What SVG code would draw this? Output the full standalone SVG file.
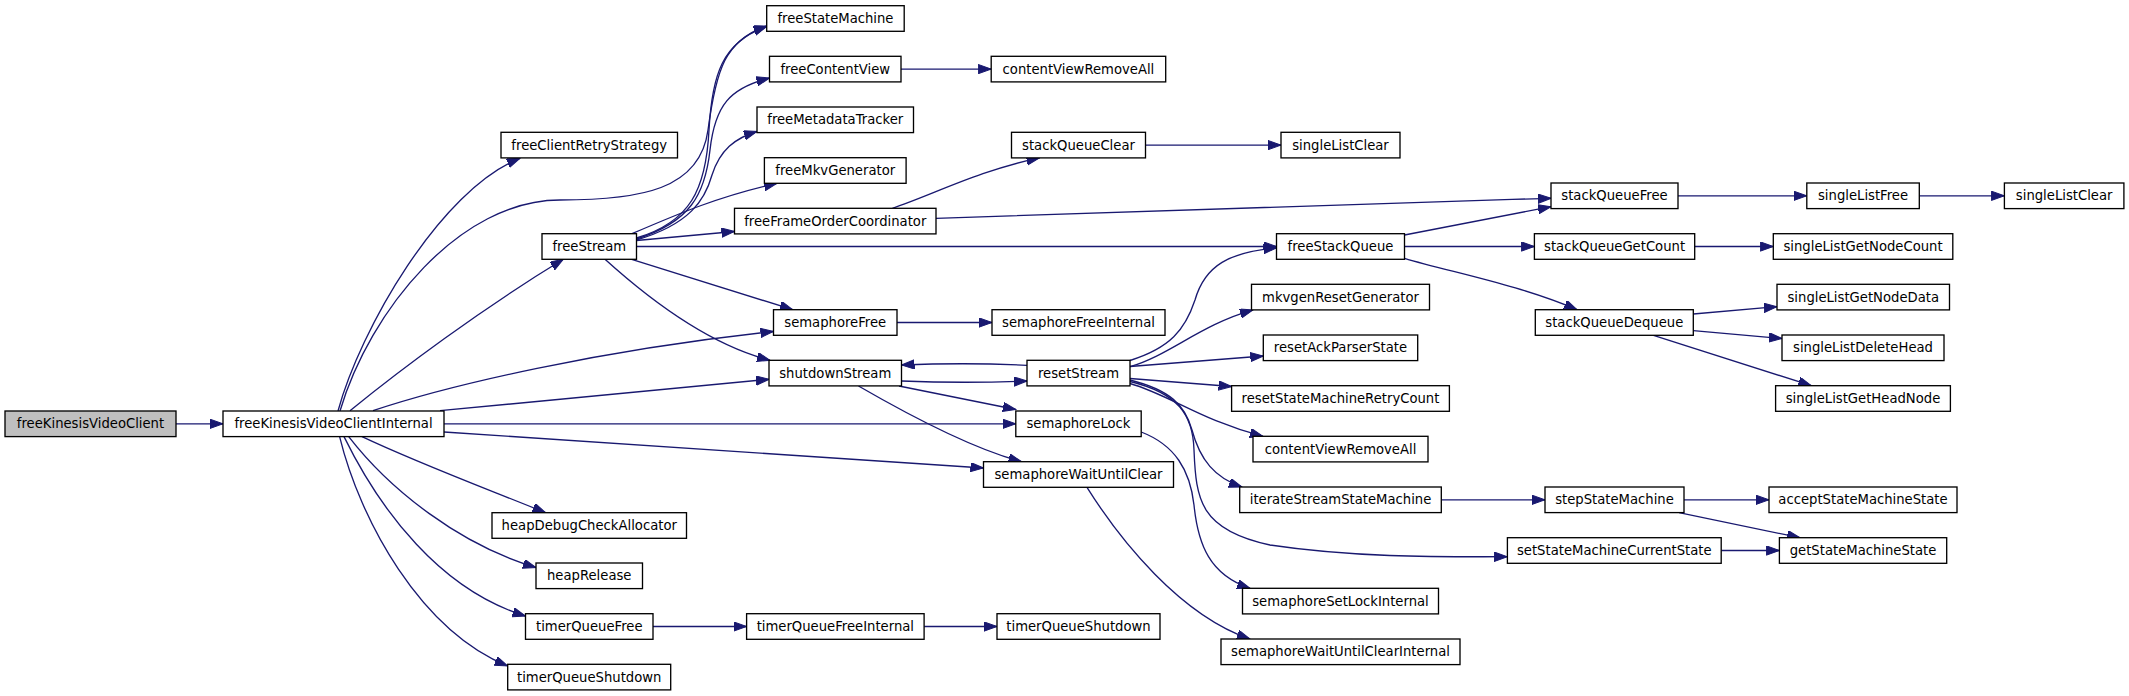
<svg xmlns="http://www.w3.org/2000/svg" width="2129" height="696" viewBox="0 0 2129 696">
<style>
.n rect{fill:#ffffff;stroke:#000000;stroke-width:1.33}
.n.root rect{fill:#bfbfbf}
.n text{font-family:"DejaVu Sans",sans-serif;font-size:13.2px;text-anchor:middle;fill:#000000}
#edges path{fill:none;stroke:#191970;stroke-width:1.33;marker-end:url(#a)}
</style>
<defs>
<marker id="a" markerWidth="14" markerHeight="10" refX="13" refY="4.65" orient="auto" markerUnits="userSpaceOnUse">
<path d="M0,0 L13,4.65 L0,9.3 z" fill="#191970" stroke="#191970" stroke-width="1"/>
</marker>
</defs>
<rect width="2129" height="696" fill="#ffffff"/>
<g id="edges">
<path d="M176,423.8 L223,423.8"/>
<path d="M338,411 C360,330 440,190 520,158.3"/>
<path d="M340,411 C370,310 460,200 560,200 C640,200 700,190 708,130 C716,70 725,40 766.7,26"/>
<path d="M350,410.7 C400,370 480,310 563.3,259.3"/>
<path d="M373,410.7 C450,385 600,350 773.5,331.5"/>
<path d="M440,410.7 L769,379.3"/>
<path d="M444,423.8 L1015.8,423.8"/>
<path d="M444,432 L983.5,468"/>
<path d="M362,436.6 C420,464 490,490 545.6,512.7"/>
<path d="M348.7,436.6 C390,490 460,545 536,567.5"/>
<path d="M344,436.6 C380,510 440,590 525.5,616"/>
<path d="M339.6,436.6 C360,520 420,630 507.7,666"/>
<path d="M636.5,238 C690,222 706,190 709,130 C712,75 722,42 766.7,26.5"/>
<path d="M636.5,239 C690,222 705,195 710,150 C715,105 730,88 769.5,78"/>
<path d="M636.5,240 C690,224 705,200 712,175 C720,150 735,138 757,131.5"/>
<path d="M632,233.7 C680,213 720,196 777,183.3"/>
<path d="M636.5,240.5 L734.5,231.5"/>
<path d="M636.5,246.5 L1276.5,246.5"/>
<path d="M631.7,259.3 L792.8,309.7"/>
<path d="M605,259.3 C650,300 710,345 770,360.3"/>
<path d="M900.7,69.1 L991.2,69.1"/>
<path d="M892.4,208.3 C930,196 980,170 1039.6,157.9"/>
<path d="M936,218.3 C1150,211 1350,204 1551,198.3"/>
<path d="M1145.5,145.1 L1281,145.1"/>
<path d="M897,322.5 L992,322.5"/>
<path d="M1404.5,235 L1551,206.7"/>
<path d="M1404.5,246.5 L1534.4,246.5"/>
<path d="M1404.5,258.3 C1450,272 1520,285 1577,309.7"/>
<path d="M1678,195.8 L1806.8,195.8"/>
<path d="M1919.3,195.8 L2004.4,195.8"/>
<path d="M1694.7,246.5 L1773.3,246.5"/>
<path d="M1693.3,314 L1777,306.7"/>
<path d="M1693.3,330.7 L1782,338.5"/>
<path d="M1653.5,335.3 L1811.4,385.7"/>
<path d="M901.5,381 C940,382.5 990,382.5 1027,381"/>
<path d="M1027,365.3 C990,363.5 940,363.5 901.5,365"/>
<path d="M899,386 L1015.8,409.5"/>
<path d="M858.5,386 C900,410 970,448 1021.5,461.7"/>
<path d="M1141.2,432 C1175,445 1190,470 1194,505 C1198,545 1210,575 1250,588.3"/>
<path d="M1087,487.3 C1120,540 1180,615 1250,639"/>
<path d="M653,626.5 L746.6,626.5"/>
<path d="M924.1,626.5 L997,626.5"/>
<path d="M1130,360.5 C1170,348 1185,330 1195,300 C1205,265 1230,252 1276.5,248"/>
<path d="M1130,366.7 C1170,355 1200,325 1253,309.9"/>
<path d="M1130,366.5 L1263.3,356"/>
<path d="M1130,378.5 L1231.6,386.5"/>
<path d="M1130,383.5 C1170,395 1200,420 1263,436.3"/>
<path d="M1130,380 C1170,390 1185,405 1192,430 C1200,460 1215,478 1242,487"/>
<path d="M1130,381.5 C1178,393 1193,415 1194,450 C1196,500 1200,530 1270,545 C1350,557 1430,557 1507.4,556.7"/>
<path d="M1441.4,499.8 L1545,499.8"/>
<path d="M1684,499.8 L1769,499.8"/>
<path d="M1679,512.7 L1800,537.7"/>
<path d="M1721.2,550.5 L1779.4,550.5"/>
</g>
<g id="n_freeKinesisVideoClient" class="n root"><rect x="5" y="411" width="171" height="25.6"/><text x="90.5" y="428.3">freeKinesisVideoClient</text></g>
<g id="n_freeKinesisVideoClientInternal" class="n"><rect x="223" y="411" width="221" height="25.6"/><text x="333.5" y="428.3">freeKinesisVideoClientInternal</text></g>
<g id="n_freeClientRetryStrategy" class="n"><rect x="501" y="132.3" width="176.5" height="25.6"/><text x="589.25" y="149.6">freeClientRetryStrategy</text></g>
<g id="n_freeStream" class="n"><rect x="542" y="233.7" width="94.5" height="25.6"/><text x="589.25" y="251">freeStream</text></g>
<g id="n_heapDebugCheckAllocator" class="n"><rect x="492" y="512.7" width="194.5" height="25.6"/><text x="589.25" y="530">heapDebugCheckAllocator</text></g>
<g id="n_heapRelease" class="n"><rect x="536" y="563" width="106.5" height="25.6"/><text x="589.25" y="580.3">heapRelease</text></g>
<g id="n_timerQueueFree" class="n"><rect x="525.5" y="613.7" width="127.5" height="25.6"/><text x="589.25" y="631">timerQueueFree</text></g>
<g id="n_timerQueueShutdown" class="n"><rect x="507.7" y="664.3" width="163" height="25.6"/><text x="589.2" y="681.6">timerQueueShutdown</text></g>
<g id="n_freeStateMachine" class="n"><rect x="766.7" y="5.7" width="137.5" height="25.6"/><text x="835.45" y="23">freeStateMachine</text></g>
<g id="n_freeContentView" class="n"><rect x="769.5" y="56.3" width="131.5" height="25.6"/><text x="835.25" y="73.6">freeContentView</text></g>
<g id="n_contentViewRemoveAll" class="n"><rect x="991.2" y="56.3" width="174.5" height="25.6"/><text x="1078.45" y="73.6">contentViewRemoveAll</text></g>
<g id="n_freeMetadataTracker" class="n"><rect x="757" y="107" width="156.5" height="25.6"/><text x="835.25" y="124.3">freeMetadataTracker</text></g>
<g id="n_freeMkvGenerator" class="n"><rect x="764.4" y="157.7" width="141.7" height="25.6"/><text x="835.25" y="175">freeMkvGenerator</text></g>
<g id="n_freeFrameOrderCoordinator" class="n"><rect x="734.5" y="208.3" width="201.5" height="25.6"/><text x="835.25" y="225.6">freeFrameOrderCoordinator</text></g>
<g id="n_stackQueueClear" class="n"><rect x="1011.5" y="132.3" width="134" height="25.6"/><text x="1078.5" y="149.6">stackQueueClear</text></g>
<g id="n_singleListClear" class="n"><rect x="1281" y="132.3" width="119" height="25.6"/><text x="1340.5" y="149.6">singleListClear</text></g>
<g id="n_freeStackQueue" class="n"><rect x="1276.5" y="233.7" width="128" height="25.6"/><text x="1340.5" y="251">freeStackQueue</text></g>
<g id="n_semaphoreFree" class="n"><rect x="773.5" y="309.7" width="123.5" height="25.6"/><text x="835.25" y="327">semaphoreFree</text></g>
<g id="n_semaphoreFreeInternal" class="n"><rect x="992" y="309.7" width="173" height="25.6"/><text x="1078.5" y="327">semaphoreFreeInternal</text></g>
<g id="n_mkvgenResetGenerator" class="n"><rect x="1251.5" y="284.3" width="178" height="25.6"/><text x="1340.5" y="301.6">mkvgenResetGenerator</text></g>
<g id="n_resetAckParserState" class="n"><rect x="1263.3" y="335" width="154.4" height="25.6"/><text x="1340.5" y="352.3">resetAckParserState</text></g>
<g id="n_shutdownStream" class="n"><rect x="769" y="360.3" width="132.5" height="25.6"/><text x="835.25" y="377.6">shutdownStream</text></g>
<g id="n_resetStream" class="n"><rect x="1027" y="360.3" width="103" height="25.6"/><text x="1078.5" y="377.6">resetStream</text></g>
<g id="n_semaphoreLock" class="n"><rect x="1015.8" y="411" width="125.4" height="25.6"/><text x="1078.5" y="428.3">semaphoreLock</text></g>
<g id="n_semaphoreWaitUntilClear" class="n"><rect x="983.5" y="461.7" width="190" height="25.6"/><text x="1078.5" y="479">semaphoreWaitUntilClear</text></g>
<g id="n_resetStateMachineRetryCount" class="n"><rect x="1231.6" y="385.7" width="217.8" height="25.6"/><text x="1340.5" y="403">resetStateMachineRetryCount</text></g>
<g id="n_contentViewRemoveAll2" class="n"><rect x="1253" y="436.3" width="175" height="25.6"/><text x="1340.5" y="453.6">contentViewRemoveAll</text></g>
<g id="n_iterateStreamStateMachine" class="n"><rect x="1239.7" y="487" width="201.6" height="25.6"/><text x="1340.5" y="504.3">iterateStreamStateMachine</text></g>
<g id="n_semaphoreSetLockInternal" class="n"><rect x="1242.5" y="588.3" width="196" height="25.6"/><text x="1340.5" y="605.6">semaphoreSetLockInternal</text></g>
<g id="n_semaphoreWaitUntilClearInternal" class="n"><rect x="1221" y="639" width="239" height="25.6"/><text x="1340.5" y="656.3">semaphoreWaitUntilClearInternal</text></g>
<g id="n_timerQueueFreeInternal" class="n"><rect x="746.6" y="613.7" width="177.5" height="25.6"/><text x="835.35" y="631">timerQueueFreeInternal</text></g>
<g id="n_timerQueueShutdown2" class="n"><rect x="997" y="613.7" width="163" height="25.6"/><text x="1078.5" y="631">timerQueueShutdown</text></g>
<g id="n_stackQueueFree" class="n"><rect x="1551" y="183" width="127" height="25.6"/><text x="1614.5" y="200.3">stackQueueFree</text></g>
<g id="n_singleListFree" class="n"><rect x="1806.8" y="183" width="112.5" height="25.6"/><text x="1863.05" y="200.3">singleListFree</text></g>
<g id="n_singleListClear2" class="n"><rect x="2004.4" y="183" width="119.5" height="25.6"/><text x="2064.15" y="200.3">singleListClear</text></g>
<g id="n_stackQueueGetCount" class="n"><rect x="1534.4" y="233.7" width="160.3" height="25.6"/><text x="1614.55" y="251">stackQueueGetCount</text></g>
<g id="n_singleListGetNodeCount" class="n"><rect x="1773.3" y="233.7" width="179.5" height="25.6"/><text x="1863.05" y="251">singleListGetNodeCount</text></g>
<g id="n_singleListGetNodeData" class="n"><rect x="1777" y="284.3" width="172.5" height="25.6"/><text x="1863.25" y="301.6">singleListGetNodeData</text></g>
<g id="n_stackQueueDequeue" class="n"><rect x="1535.3" y="309.7" width="158" height="25.6"/><text x="1614.3" y="327">stackQueueDequeue</text></g>
<g id="n_singleListDeleteHead" class="n"><rect x="1782" y="335" width="162" height="25.6"/><text x="1863" y="352.3">singleListDeleteHead</text></g>
<g id="n_singleListGetHeadNode" class="n"><rect x="1775.6" y="385.7" width="174.8" height="25.6"/><text x="1863" y="403">singleListGetHeadNode</text></g>
<g id="n_stepStateMachine" class="n"><rect x="1545" y="487" width="139" height="25.6"/><text x="1614.5" y="504.3">stepStateMachine</text></g>
<g id="n_acceptStateMachineState" class="n"><rect x="1769" y="487" width="188" height="25.6"/><text x="1863" y="504.3">acceptStateMachineState</text></g>
<g id="n_setStateMachineCurrentState" class="n"><rect x="1507.4" y="537.7" width="213.8" height="25.6"/><text x="1614.3" y="555">setStateMachineCurrentState</text></g>
<g id="n_getStateMachineState" class="n"><rect x="1779.4" y="537.7" width="167.3" height="25.6"/><text x="1863.05" y="555">getStateMachineState</text></g>
</svg>
